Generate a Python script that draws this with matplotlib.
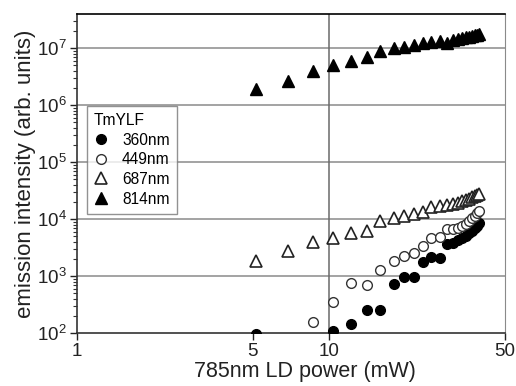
import numpy as np
import matplotlib
matplotlib.use("Agg")
import matplotlib.pyplot as plt
from matplotlib.ticker import FixedLocator, FixedFormatter, LogLocator, NullFormatter

plt.rcParams['font.family'] = ['Liberation Sans', 'DejaVu Sans']

power = [5.15, 6.9, 8.65, 10.4, 12.3, 14.2, 16.0, 18.1, 19.8, 21.7, 23.6, 25.5,
         27.5, 29.4, 31.0, 32.5, 33.8, 35.0, 36.0, 37.0, 38.0, 38.8, 39.6]
nan = np.nan
i360 = [95, nan, nan, 107, 146, 250, 257, 724, 980, 950, 1740, 2130, 2080,
        3640, 3800, 4300, 4700, 5000, 5600, 6200, 6900, 7700, 8500]
i449 = [nan, nan, 156, 350, 770, 705, 1260, 1870, 2220, 2530, 3400, 4650, 4800,
        6600, 6600, 6900, 7500, 8300, 9300, 10500, 11500, 13000, 14000]
i687 = [1860, 2800, 4000, 4700, 5600, 6300, 9100, 10500, 11500, 12400, 13400,
        16000, 17000, 17600, 18700, 19500, 20500, 21500, 22500, 24000, 25000,
        26500, 27500]
i814 = [1.9e6, 2.7e6, 4.0e6, 5.0e6, 6.0e6, 6.9e6, 8.9e6, 1.0e7, 1.07e7, 1.15e7,
        1.22e7, 1.28e7, 1.32e7, 1.25e7, 1.38e7, 1.45e7, 1.5e7, 1.55e7, 1.6e7,
        1.65e7, 1.68e7, 1.72e7, 1.75e7]
series_labels = ['360nm', '449nm', '687nm', '814nm']
xticks = [1, 5, 10, 50]
xticklabels = ['1', '5', '10', '50']

fig = plt.figure(figsize=(5.16, 3.86), dpi=100)
ax = fig.add_axes([76.7/516, 1 - 333/386, 428.3/516, 319/386])
ax.set_xscale('log')
ax.set_yscale('log')
ax.set_xlim(1, 50)
ax.set_ylim(100, 10**7.6)

for y in [1e3, 1e4, 1e5, 1e6, 1e7]:
    ax.axhline(y, color='#8a8a8a', lw=1.1, zorder=1)
ax.axvline(10, color='#6a6a6a', lw=1.1, zorder=1)

ms = 7
ax.plot(power, i360, 'o', ms=ms, mfc='black', mec='black', mew=1, label=series_labels[0], zorder=3)
ax.plot(power, i449, 'o', ms=ms, mfc='white', mec='#333333', mew=1, label=series_labels[1], zorder=3)
ax.plot(power, i687, '^', ms=ms+1, mfc='white', mec='#222222', mew=1.2, label=series_labels[2], zorder=3)
ax.plot(power, i814, '^', ms=ms+1, mfc='black', mec='black', mew=1, label=series_labels[3], zorder=3)

ax.xaxis.set_major_locator(FixedLocator(xticks))
ax.xaxis.set_major_formatter(FixedFormatter(xticklabels))
ax.xaxis.set_minor_locator(FixedLocator([]))
ax.yaxis.set_major_locator(LogLocator(base=10, numticks=20))
ax.yaxis.set_minor_locator(LogLocator(base=10, subs=np.arange(2, 10), numticks=20))
ax.yaxis.set_minor_formatter(NullFormatter())
ax.tick_params(axis='both', which='major', direction='out', length=5, width=1, labelsize=13.5, colors='#222222')
ax.tick_params(axis='y', which='minor', direction='out', length=3, width=0.8, colors='#333333')
ax.tick_params(axis='x', which='major', pad=2)
ax.tick_params(axis='y', which='major', pad=2)

ax.spines['top'].set_color('black')
ax.spines['top'].set_linewidth(1.2)
ax.spines['right'].set_color('#8a8a8a')
ax.spines['left'].set_color('#333333')
ax.spines['bottom'].set_color('#333333')
ax.spines['left'].set_linewidth(1.2)
ax.spines['bottom'].set_linewidth(1.2)

ax.set_xlabel('785nm LD power (mW)', fontsize=15.5, color='#222222')
ax.xaxis.set_label_coords(0.533, -0.088)
ax.set_ylabel('emission intensity (arb. units)', fontsize=16, color='#222222', labelpad=1)

leg = ax.legend(title='TmYLF', loc='upper left', bbox_to_anchor=(0.024, 0.712),
                fontsize=11.2, title_fontsize=11.2, frameon=True, fancybox=False,
                edgecolor='#777777', borderpad=0.45, handletextpad=0.9,
                labelspacing=0.3, handlelength=0.9, borderaxespad=0)
leg._legend_box.align = 'left'
leg.get_frame().set_linewidth(1.0)

fig.savefig('out.png', dpi=100)
